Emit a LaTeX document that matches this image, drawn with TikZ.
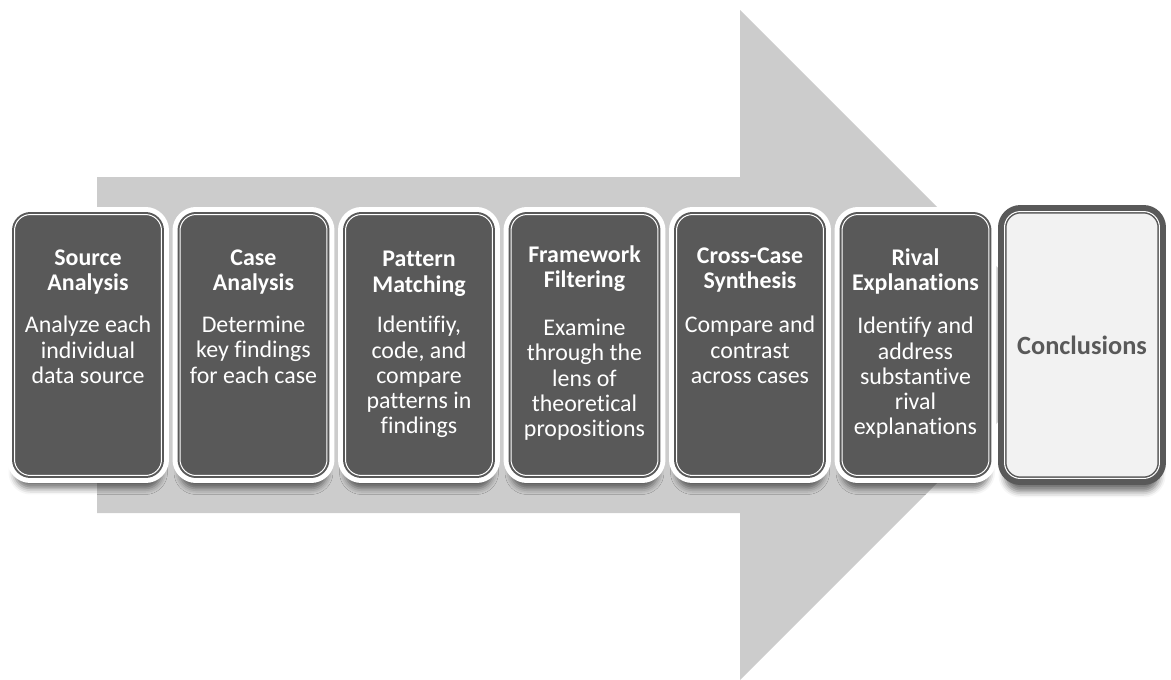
\documentclass[tikz,border=0pt]{standalone}
\usepackage{fontspec}
\setmainfont{Carlito}[Ligatures=NoCommon]
\usepackage{xcolor}
\usetikzlibrary{calc,shadows.blur}
\definecolor{boxgray}{HTML}{595959}
\definecolor{arrowgray}{HTML}{CCCCCC}
\definecolor{lightfill}{HTML}{F2F2F2}

\begin{document}
\begin{tikzpicture}[x=0.02cm, y=-0.02cm, stepbox/.style={rectangle, rounded corners=0.32cm, minimum width=2.94cm, minimum height=5.22cm, inner sep=0pt, blur shadow={shadow xshift=0cm, shadow yshift=-0.26cm, shadow blur radius=0.12cm, shadow opacity=55}, preaction={draw=white, line width=0.3cm}, fill=boxgray, draw=boxgray, double=white, double distance=0.02cm, line width=0.04cm}, endbox/.style={rectangle, rounded corners=0.32cm, minimum width=3.1cm, minimum height=5.34cm, inner sep=0pt, blur shadow={shadow xshift=0cm, shadow yshift=-0.26cm, shadow blur radius=0.12cm, shadow opacity=55}, preaction={draw=boxgray, line width=0.26cm}, fill=lightfill, draw=boxgray, double=white, double distance=0.02cm, line width=0.03cm, text=boxgray, font=\fontsize{15}{18}\selectfont\bfseries}, steptitle/.style={anchor=north, inner sep=0pt, align=center, text=white, font=\fontsize{13.6}{14.3}\selectfont\bfseries}, steptext/.style={anchor=north, inner sep=0pt, align=center, text=white, font=\fontsize{13.6}{14.3}\selectfont}]
\useasboundingbox (0,0) rectangle (1171,680);
% big arrow behind the steps
\fill[arrowgray] (97,177) -- (740,177) -- (740,10) -- (1075,345) -- (740,680) -- (740,513) -- (97,513) -- cycle;
\node[stepbox] (b1) at (88,345) {};
\node[stepbox] (b2) at (253.5,345) {};
\node[stepbox] (b3) at (419,345) {};
\node[stepbox] (b4) at (584.5,345) {};
\node[stepbox] (b5) at (750,345) {};
\node[stepbox] (b6) at (915.5,345) {};
\node[endbox] (b7) at (1082,345) {Conclusions};
% titles
\node[steptitle] (t1) at ($(b1.north)+(0,35.5)$) {Source\\Analysis};
\node[steptitle] (t2) at ($(b2.north)+(0,35.5)$) {Case\\Analysis};
\node[steptitle] (t3) at ($(b3.north)+(0,37.5)$) {Pattern\\Matching};
\node[steptitle] (t4) at ($(b4.north)+(0,31.5)$) {Framework\\Filtering};
\node[steptitle] (t5) at ($(b5.north)+(0,33.5)$) {Cross-Case\\Synthesis};
\node[steptitle] (t6) at ($(b6.north)+(0,34.5)$) {Rival\\Explanations};
% descriptions
\node[steptext] (d1) at ($(b1.north)+(0,102.5)$) {Analyze each\\individual\\data source};
\node[steptext] (d2) at ($(b2.north)+(0,102.5)$) {Determine\\key findings\\for each case};
\node[steptext] (d3) at ($(b3.north)+(0,102.5)$) {Identifiy,\\code, and\\compare\\patterns in\\findings};
\node[steptext] (d4) at ($(b4.north)+(0,105.5)$) {Examine\\through the\\lens of\\theoretical\\propositions};
\node[steptext] (d5) at ($(b5.north)+(0,102.5)$) {Compare and\\contrast\\across cases};
\node[steptext] (d6) at ($(b6.north)+(0,103.5)$) {Identify and\\address\\substantive\\rival\\explanations};
\end{tikzpicture}
\end{document}
